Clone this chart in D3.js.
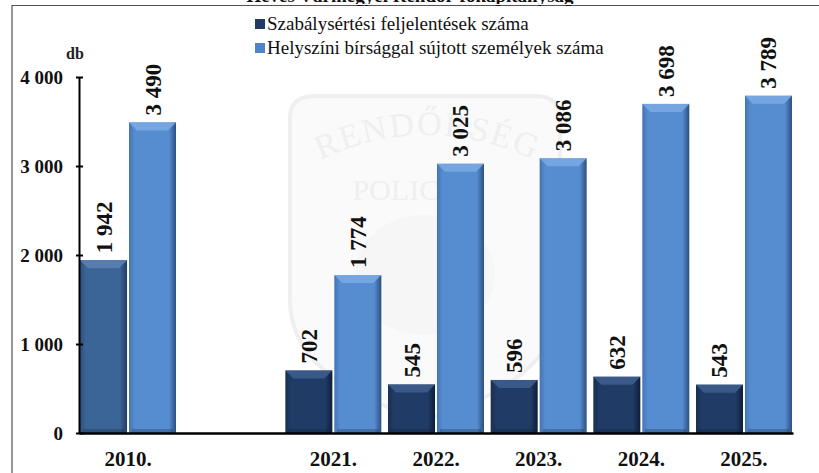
<!DOCTYPE html>
<html>
<head>
<meta charset="utf-8">
<script src="https://cdn.jsdelivr.net/npm/d3@7"></script>
<style>
  body { margin: 0; background: #fff; }
  svg text { font-family: "Liberation Serif", "Times New Roman", Tinos, "DejaVu Serif", serif; }
</style>
</head>
<body>
<script>
// categories (the empty one is the gap between 2010 and 2021)
var categories = ['2010.', '', '2021.', '2022.', '2023.', '2024.', '2025.'];
var feljelentes = [1942, null, 702, 545, 596, 632, 543];
var birsag = [3490, null, 1774, 3025, 3086, 3698, 3789];
var yTicks = [0, 1000, 2000, 3000, 4000];
var seriesNames = ['Szabálysértési feljelentések száma', 'Helyszíni bírsággal sújtott személyek száma'];

var W = 819, H = 473;
var FONT = '"Liberation Serif", "Times New Roman", Tinos, "DejaVu Serif", serif';
var svg = d3.select('body').append('svg').attr('width', W).attr('height', H);

var x = d3.scaleBand().domain(categories).range([79, 793]).paddingInner(0.065).paddingOuter(0.01);
var inner = d3.scaleBand().domain([0, 1]).range([0, x.bandwidth()]).paddingInner(0.04);
var y = d3.scaleLinear().domain([0, 4000]).range([433, 77]);

var fmt = d3.formatLocale({ decimal: ',', thousands: '\u00a0', grouping: [3], currency: ['', ''] }).format(',');

// gradients
var defs = svg.append('defs');
function grad(id, edge, mid, right) {
  var g = defs.append('linearGradient').attr('id', id).attr('x1', 0).attr('x2', 1).attr('y1', 0).attr('y2', 0);
  g.append('stop').attr('offset', 0).attr('stop-color', edge);
  g.append('stop').attr('offset', 0.12).attr('stop-color', mid);
  g.append('stop').attr('offset', 0.85).attr('stop-color', mid);
  g.append('stop').attr('offset', 1).attr('stop-color', right);
}
grad('g-dark', '#183050', '#1f3b66', '#0e1d36');
grad('g-dark0', '#2d4f7d', '#3b6497', '#223d63');
grad('g-light', '#4474b4', '#568dd1', '#2c4f80');

// frame
svg.append('line').attr('x1', 12).attr('x2', W).attr('y1', 5).attr('y2', 5).attr('stroke', '#555').attr('stroke-width', 2);
svg.append('line').attr('x1', 12).attr('x2', 12).attr('y1', 5).attr('y2', H).attr('stroke', '#333').attr('stroke-width', 1);

// title, cut off at the top like in the picture
svg.append('text').attr('x', 410).attr('y', 2).attr('text-anchor', 'middle')
  .attr('font-family', FONT).attr('font-weight', 'bold').attr('font-size', 19).attr('fill', '#111')
  .text('Heves Vármegyei Rendőr-főkapitányság');
svg.append('rect').attr('x', 0).attr('y', 4).attr('width', W).attr('height', 1).attr('fill', '#fff');

// faint watermark badge
var wm = svg.append('g').attr('opacity', 0.55);
wm.append('path')
  .attr('d', 'M290,118 Q290,96 315,96 L535,96 Q560,96 560,118 L560,300 Q560,380 425,420 Q290,380 290,300 Z')
  .attr('fill', '#f6f6f6').attr('stroke', '#e2e2e2').attr('stroke-width', 4);
defs.append('path').attr('id', 'arc').attr('d', 'M310,165 Q425,105 545,165');
wm.append('text').attr('font-family', FONT).attr('font-size', 34).attr('fill', '#e3e3e3').attr('letter-spacing', 2)
  .append('textPath').attr('href', '#arc').attr('startOffset', '50%').attr('text-anchor', 'middle').text('RENDŐRSÉG');
wm.append('text').attr('x', 405).attr('y', 200).attr('text-anchor', 'middle').attr('font-family', FONT).attr('font-size', 30)
  .attr('fill', '#e3e3e3').text('POLICE');
wm.append('ellipse').attr('cx', 425).attr('cy', 275).attr('rx', 70).attr('ry', 60).attr('fill', '#efefef');

// legend
var legend = svg.append('g');
var legColors = ['#1f3b66', '#4f84c9'];
seriesNames.forEach(function (name, i) {
  var ly = 24 + i * 24;
  legend.append('rect').attr('x', 255).attr('y', ly - 5).attr('width', 10).attr('height', 10).attr('fill', legColors[i]);
  legend.append('text').attr('x', 267).attr('y', ly + 6).attr('font-family', FONT).attr('font-size', 19)
    .attr('fill', '#111').text(name);
});

// bars
var rows = categories.map(function (c, i) { return { cat: c, idx: i, vals: [feljelentes[i], birsag[i]] }; });
var groups = svg.append('g').selectAll('g').data(rows).join('g')
  .attr('transform', function (d) { return 'translate(' + x(d.cat) + ',0)'; });

var bars = groups.selectAll('g.bar').data(function (d) {
  return d.vals.map(function (v, s) { return { v: v, s: s, idx: d.idx }; }).filter(function (b) { return b.v != null; });
}).join('g').attr('class', 'bar');

bars.append('rect')
  .attr('x', function (d) { return inner(d.s); })
  .attr('y', function (d) { return y(d.v); })
  .attr('width', inner.bandwidth())
  .attr('height', function (d) { return y(0) - y(d.v); })
  .attr('fill', function (d) { return d.s === 1 ? 'url(#g-light)' : (d.idx === 0 ? 'url(#g-dark0)' : 'url(#g-dark)'); });

// top bevel
bars.append('path')
  .attr('d', function (d) {
    var x0 = inner(d.s), w = inner.bandwidth(), t = y(d.v), b = 8;
    return 'M' + x0 + ',' + t + 'L' + (x0 + w) + ',' + t + 'L' + (x0 + w - b) + ',' + (t + b) + 'L' + (x0 + b) + ',' + (t + b) + 'Z';
  })
  .attr('fill', function (d) { return d.s === 1 ? '#7aa8e2' : (d.idx === 0 ? '#5a80b0' : '#3d5d8c'); })
  .attr('opacity', 0.9);
// bottom shade
bars.append('rect')
  .attr('x', function (d) { return inner(d.s) + 3; })
  .attr('y', y(0) - 4)
  .attr('width', inner.bandwidth() - 6)
  .attr('height', 4)
  .attr('fill', '#0c1a30').attr('opacity', 0.25);

// value labels
bars.append('text')
  .attr('transform', function (d) {
    return 'translate(' + (inner(d.s) + inner.bandwidth() / 2 + 8) + ',' + (y(d.v) - 7) + ') rotate(-90)';
  })
  .attr('font-family', FONT).attr('font-weight', 'bold').attr('font-size', 23).attr('fill', '#111')
  .text(function (d) { return fmt(d.v); });

// y axis
var yAxis = svg.append('g').attr('transform', 'translate(79,0)')
  .call(d3.axisLeft(y).tickValues(yTicks).tickSize(0).tickPadding(16)
    .tickFormat(function (d) { return fmt(d); }));
yAxis.attr('font-family', FONT);
yAxis.select('.domain').attr('stroke', '#000').attr('stroke-width', 2);
yAxis.selectAll('.tick line').attr('x1', -3).attr('x2', 4).attr('stroke', '#000').attr('stroke-width', 2);
yAxis.selectAll('text').attr('font-family', FONT).attr('font-weight', 'bold')
  .attr('font-size', 19).attr('fill', '#111');
svg.append('text').attr('x', 75).attr('y', 59).attr('text-anchor', 'middle').attr('font-family', FONT)
  .attr('font-weight', 'bold').attr('font-size', 16).attr('fill', '#222').text('db');

// x axis
var xAxis = svg.append('g').attr('transform', 'translate(0,433)')
  .call(d3.axisBottom(x).tickSize(0).tickPadding(18));
xAxis.attr('font-family', FONT);
xAxis.select('.domain').attr('stroke', '#000').attr('stroke-width', 2.5);
xAxis.selectAll('text').attr('font-family', FONT).attr('font-weight', 'bold')
  .attr('font-size', 21).attr('fill', '#111');
</script>
</body>
</html>
